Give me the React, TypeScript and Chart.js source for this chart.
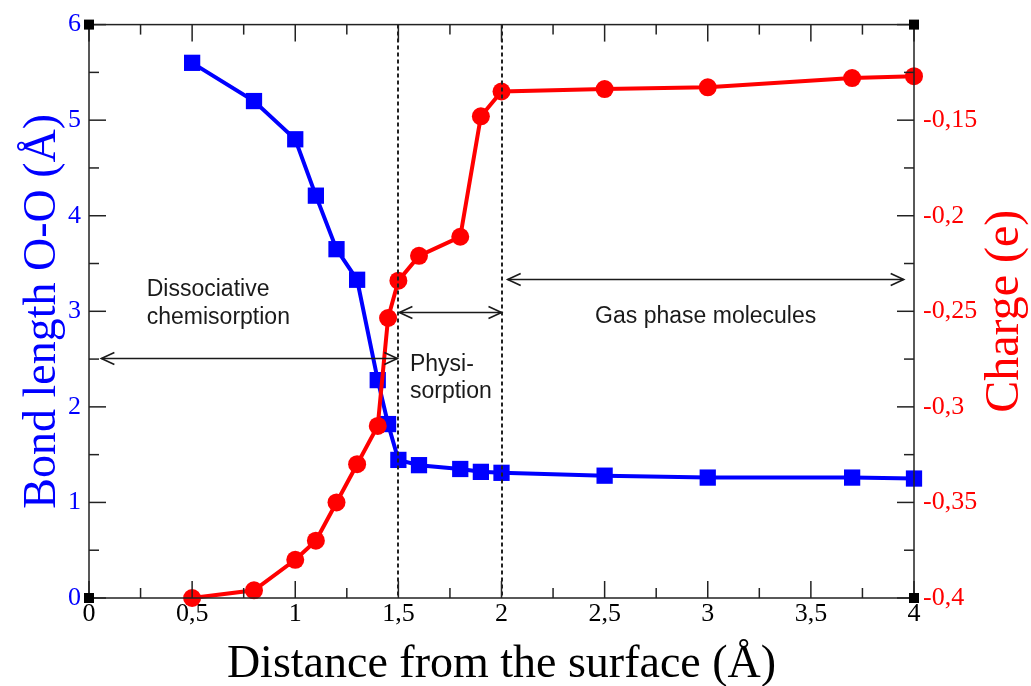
import React, { useEffect, useRef } from 'react';
import { Chart, registerables } from 'chart.js';

Chart.register(...registerables);

// ---- Data ----
const distance = [0.5, 0.8, 1.0, 1.1, 1.2, 1.3, 1.4, 1.45, 1.5, 1.6, 1.8, 1.9, 2.0, 2.5, 3.0, 3.7, 4.0];
const bondLength = [5.6, 5.2, 4.8, 4.21, 3.65, 3.33, 2.28, 1.82, 1.445, 1.39, 1.35, 1.32, 1.31, 1.28, 1.26, 1.26, 1.25];
const charge = [-0.4, -0.396, -0.38, -0.37, -0.35, -0.33, -0.31, -0.2535, -0.234, -0.221, -0.211, -0.148, -0.135, -0.1337, -0.1328, -0.128, -0.127];

const xMin = 0;
const xMax = 4;
const xStep = 0.5;
const bondMin = 0;
const bondMax = 6;
const bondStep = 1;
const chargeMin = -0.4;
const chargeMax = -0.1;
const chargeStep = 0.05;

const regionBoundaries = [1.5, 2.0];

const xTitle = 'Distance from the surface (Å)';
const leftTitle = 'Bond length O-O (Å)';
const rightTitle = 'Charge (e)';

// annotations, positioned in data units (x: distance, y: bond length)
const arrows = [
  { from: 0.06, to: 1.495, y: 2.51 },
  { from: 1.505, to: 2.0, y: 2.99 },
  { from: 2.03, to: 3.95, y: 3.34 },
];
const labels = [
  { text: 'Dissociative', x: 0.28, y: 3.16, align: 'left' },
  { text: 'chemisorption', x: 0.28, y: 2.87, align: 'left' },
  { text: 'Physi-', x: 1.556, y: 2.375, align: 'left' },
  { text: 'sorption', x: 1.556, y: 2.09, align: 'left' },
  { text: 'Gas phase molecules', x: 2.99, y: 2.88, align: 'center' },
];

const SERIF = "'Liberation Serif', 'Times New Roman', serif";
const SANS = "'Liberation Sans', Arial, sans-serif";

const fmt = (v: number) => String(parseFloat(Number(v).toFixed(3))).replace('.', ',');

const decorations = {
  id: 'decorations',
  afterDatasetsDraw(chart: any) {
    const { ctx, chartArea: a, scales } = chart;
    const xs = scales.x;
    const ys = scales.y;
    const y2 = scales.y2;
    ctx.save();

    // dashed region boundaries
    ctx.strokeStyle = '#222';
    ctx.lineWidth = 2;
    ctx.setLineDash([4, 3]);
    for (const v of regionBoundaries) {
      const px = Math.round(xs.getPixelForValue(v));
      ctx.beginPath();
      ctx.moveTo(px, a.top);
      ctx.lineTo(px, a.bottom);
      ctx.stroke();
    }
    ctx.setLineDash([]);

    // frame
    ctx.strokeStyle = '#222';
    ctx.lineWidth = 1.5;
    ctx.strokeRect(a.left, a.top, a.right - a.left, a.bottom - a.top);

    const major = 17;
    const minor = 10;
    const line = (x1: number, y1: number, x2: number, y2p: number) => {
      ctx.beginPath();
      ctx.moveTo(x1, y1);
      ctx.lineTo(x2, y2p);
      ctx.stroke();
    };
    // x ticks (top and bottom), inward
    for (let v = xMin; v <= xMax + 1e-9; v += xStep / 2) {
      const isMajor = Math.abs(v / xStep - Math.round(v / xStep)) < 1e-6;
      const len = isMajor ? major : minor;
      const px = xs.getPixelForValue(v);
      line(px, a.bottom, px, a.bottom - len);
      line(px, a.top, px, a.top + len);
    }
    // left ticks
    for (let v = bondMin; v <= bondMax + 1e-9; v += bondStep / 2) {
      const isMajor = Math.abs(v / bondStep - Math.round(v / bondStep)) < 1e-6;
      const py = ys.getPixelForValue(v);
      line(a.left, py, a.left + (isMajor ? major : minor), py);
    }
    // right ticks
    const nR = Math.round((chargeMax - chargeMin) / (chargeStep / 2));
    for (let i = 0; i <= nR; i++) {
      const v = chargeMin + (i * chargeStep) / 2;
      const py = y2.getPixelForValue(v);
      line(a.right, py, a.right - (i % 2 === 0 ? major : minor), py);
    }

    // corner markers
    ctx.fillStyle = '#000';
    const corners = [
      [a.left, a.top], [a.right, a.top], [a.left, a.bottom], [a.right, a.bottom],
    ];
    for (const [cx, cy] of corners) ctx.fillRect(cx - 5, cy - 5, 10, 10);

    // arrows
    ctx.strokeStyle = '#1a1a1a';
    ctx.lineWidth = 1.6;
    const head = (tx: number, ty: number, dir: number) => {
      ctx.beginPath();
      ctx.moveTo(tx - dir * 13, ty - 6);
      ctx.lineTo(tx, ty);
      ctx.lineTo(tx - dir * 13, ty + 6);
      ctx.stroke();
    };
    for (const ar of arrows) {
      const x1 = xs.getPixelForValue(ar.from);
      const x2 = xs.getPixelForValue(ar.to);
      const py = Math.round(ys.getPixelForValue(ar.y)) + 0.5;
      line(x1, py, x2, py);
      head(x1, py, -1);
      head(x2, py, 1);
    }

    // annotation labels
    ctx.fillStyle = '#1a1a1a';
    ctx.font = `23px ${SANS}`;
    ctx.textBaseline = 'alphabetic';
    for (const l of labels) {
      ctx.textAlign = l.align as CanvasTextAlign;
      ctx.fillText(l.text, xs.getPixelForValue(l.x), ys.getPixelForValue(l.y));
    }

    // axis titles
    const midY = (a.top + a.bottom) / 2;
    ctx.textAlign = 'center';
    ctx.fillStyle = '#000';
    ctx.font = `46px ${SERIF}`;
    ctx.fillText(xTitle, (a.left + a.right) / 2, a.bottom + 79);

    ctx.save();
    ctx.fillStyle = '#0000ff';
    ctx.font = `46px ${SERIF}`;
    ctx.translate(a.left - 34, midY);
    ctx.rotate(-Math.PI / 2);
    ctx.fillText(leftTitle, 0, 0);
    ctx.restore();

    ctx.save();
    ctx.fillStyle = '#ff0000';
    ctx.font = `48px ${SERIF}`;
    ctx.translate(a.right + 104, midY);
    ctx.rotate(-Math.PI / 2);
    ctx.fillText(rightTitle, 0, 0);
    ctx.restore();

    ctx.restore();
  },
};

export default function App() {
  const canvasRef = useRef<HTMLCanvasElement | null>(null);

  useEffect(() => {
    if (!canvasRef.current) return;
    const chart = new Chart(canvasRef.current, {
      type: 'line',
      data: {
        datasets: [
          {
            label: 'Bond length O-O',
            data: distance.map((x, i) => ({ x, y: bondLength[i] })),
            yAxisID: 'y',
            borderColor: '#0000ff',
            backgroundColor: '#0000ff',
            borderWidth: 4,
            pointStyle: 'rect',
            pointRadius: 11.5,
            pointBorderWidth: 0,
            tension: 0,
            clip: false,
            order: 2,
          } as any,
          {
            label: 'Charge',
            data: distance.map((x, i) => ({ x, y: charge[i] })),
            yAxisID: 'y2',
            borderColor: '#ff0000',
            backgroundColor: '#ff0000',
            borderWidth: 4,
            pointStyle: 'circle',
            pointRadius: 9,
            pointBorderWidth: 0,
            tension: 0,
            clip: false,
            order: 1,
          } as any,
        ],
      },
      options: {
        responsive: false,
        maintainAspectRatio: false,
        animation: false,
        layout: { padding: { top: 22, left: 0, right: 0, bottom: 0 } },
        plugins: { legend: { display: false }, tooltip: { enabled: false } },
        scales: {
          x: {
            type: 'linear',
            position: 'bottom',
            min: xMin,
            max: xMax,
            grid: { display: false, drawTicks: false },
            border: { display: false },
            ticks: {
              stepSize: xStep,
              autoSkip: false,
              maxRotation: 0,
              color: '#000',
              padding: 1,
              font: { family: SERIF, size: 26 },
              callback: (v: any) => fmt(v),
            },
            afterFit: (s: any) => { s.height = 88; },
          },
          y: {
            type: 'linear',
            position: 'left',
            min: bondMin,
            max: bondMax,
            grid: { display: false, drawTicks: false },
            border: { display: false },
            ticks: {
              stepSize: bondStep,
              color: '#0000ff',
              padding: 8,
              font: { family: SERIF, size: 26 },
              callback: (v: any) => fmt(v),
            },
            afterFit: (s: any) => { s.width = 89; },
          },
          y2: {
            type: 'linear',
            position: 'right',
            min: chargeMin,
            max: chargeMax,
            grid: { display: false, drawTicks: false },
            border: { display: false },
            ticks: {
              stepSize: chargeStep,
              color: '#ff0000',
              padding: 9,
              font: { family: SERIF, size: 26 },
              callback: (v: any) => (Math.abs(v - chargeMax) < 1e-6 ? '' : fmt(v)),
            },
            afterFit: (s: any) => { s.width = 117; },
          },
        },
      } as any,
      plugins: [decorations],
    });
    return () => chart.destroy();
  }, []);

  return (
    <div style={{ position: 'absolute', left: 0, top: 0, width: 1031, height: 686, background: '#fff' }}>
      <canvas ref={canvasRef} width={1031} height={686} style={{ display: 'block' }} />
    </div>
  );
}
